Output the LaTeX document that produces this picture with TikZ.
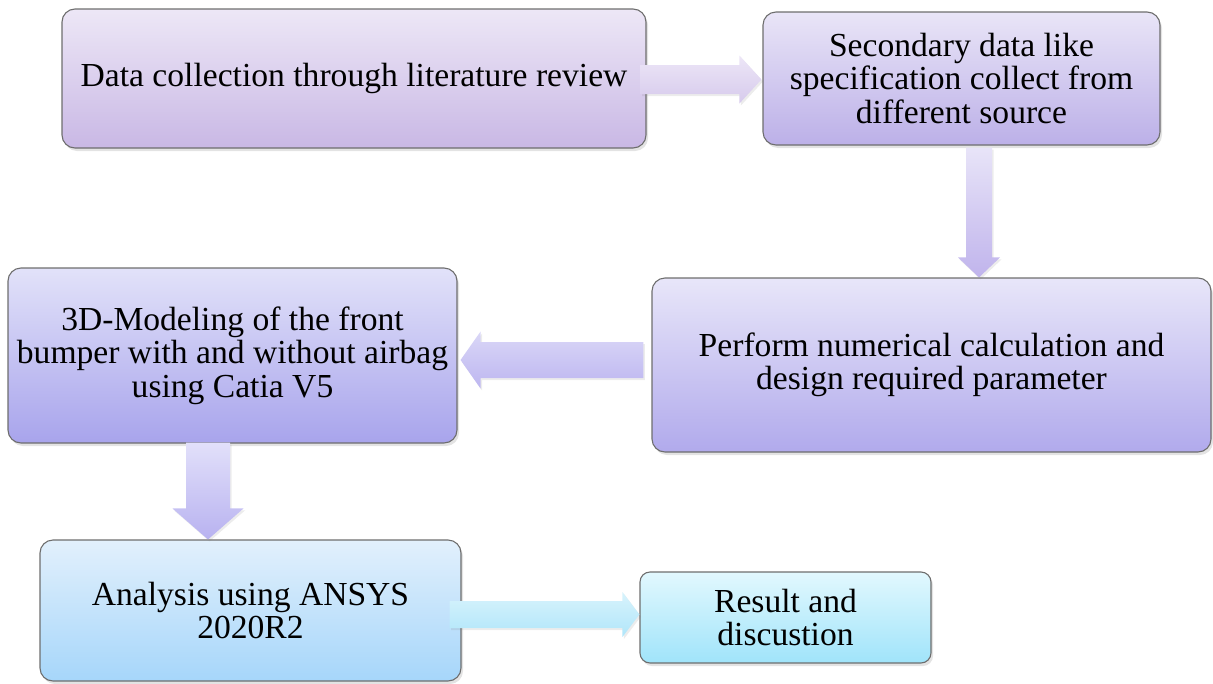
\documentclass[tikz,border=0pt]{standalone}
\usepackage{fontspec}
\setmainfont{Liberation Serif}
\usetikzlibrary{calc,shadows}

\definecolor{edgegray}{HTML}{6E6E6E}

\tikzset{
  stepbox/.style={draw=edgegray, line width=1.1pt, rounded corners=13pt,
    align=center, inner sep=0pt, text=black,
    font=\fontsize{33.6}{33.5}\selectfont,
    drop shadow={shadow xshift=2pt, shadow yshift=-3pt, opacity=0.22}},
  flowarrow/.style={drop shadow={shadow xshift=1.5pt, shadow yshift=-2pt, opacity=0.15}},
}

\begin{document}
\begin{tikzpicture}[x=1pt,y=-1pt]
\useasboundingbox (0,0) rectangle (1213,683);

% process boxes
\node[stepbox, minimum width=584pt, minimum height=139pt,
      top color={rgb,255:red,237;green,231;blue,246}, bottom color={rgb,255:red,201;green,184;blue,229}]
  (b1) at (354,78.5) {Data collection through literature review};
\node[stepbox, minimum width=397pt, minimum height=133pt,
      top color={rgb,255:red,233;green,229;blue,247}, bottom color={rgb,255:red,188;green,176;blue,232}]
  (b2) at (961.5,78.5) {Secondary data like\\specification collect from\\different source};
\node[stepbox, minimum width=559pt, minimum height=174pt,
      top color={rgb,255:red,232;green,230;blue,249}, bottom color={rgb,255:red,177;green,170;blue,236}]
  (b3) at (931.5,365) {Perform numerical calculation and\\design required parameter};
\node[stepbox, minimum width=449pt, minimum height=175pt,
      top color={rgb,255:red,226;green,226;blue,249}, bottom color={rgb,255:red,168;green,164;blue,236}]
  (b4) at (232.5,355.5) {3D-Modeling of the front\\bumper with and without airbag\\using Catia V5};
\node[stepbox, minimum width=421pt, minimum height=141pt,
      top color={rgb,255:red,226;green,240;blue,252}, bottom color={rgb,255:red,166;green,214;blue,250}]
  (b5) at (250.5,610.5) {Analysis using ANSYS\\2020R2};
\node[stepbox, rounded corners=10pt, minimum width=291pt, minimum height=91pt,
      top color={rgb,255:red,226;green,248;blue,254}, bottom color={rgb,255:red,160;green,228;blue,250}]
  (b6) at (785.5,617.5) {Result and\\discustion};

% block arrows between the boxes
\coordinate (a1s) at ($(b1.east)+(-6,1)$);
\coordinate (a1e) at ($(a1s -| b2.west)+(-1,0)$);
\shade[flowarrow, top color={rgb,255:red,237;green,230;blue,247}, bottom color={rgb,255:red,214;green,202;blue,236}]
  ($(a1s)+(0,-14.5)$) -- ($(a1e)+(-22,-14.5)$) -- ($(a1e)+(-22,-24)$) -- (a1e)
  -- ($(a1e)+(-22,24)$) -- ($(a1e)+(-22,14.5)$) -- ($(a1s)+(0,14.5)$) -- cycle;

\coordinate (a2s) at ($(b2.south)+(17.5,2)$);
\coordinate (a2e) at (a2s |- b3.north);
\shade[flowarrow, top color={rgb,255:red,232;green,228;blue,248}, bottom color={rgb,255:red,192;green,180;blue,236}]
  ($(a2s)+(-13,0)$) -- ($(a2e)+(-13,-20)$) -- ($(a2e)+(-21,-20)$) -- (a2e)
  -- ($(a2e)+(21,-20)$) -- ($(a2e)+(13,-20)$) -- ($(a2s)+(13,0)$) -- cycle;

\coordinate (a3s) at ($(b3.west)+(-8,-5)$);
\coordinate (a3e) at ($(a3s -| b4.east)+(3,0)$);
\shade[flowarrow, top color={rgb,255:red,218;green,215;blue,247}, bottom color={rgb,255:red,189;green,182;blue,240}]
  ($(a3s)+(0,-18)$) -- ($(a3e)+(20,-18)$) -- ($(a3e)+(20,-28.5)$) -- (a3e)
  -- ($(a3e)+(20,28.5)$) -- ($(a3e)+(20,18)$) -- ($(a3s)+(0,18)$) -- cycle;

\coordinate (a4s) at ($(b4.south)+(-24.5,-1)$);
\coordinate (a4e) at (a4s |- b5.north);
\shade[flowarrow, top color={rgb,255:red,226;green,224;blue,250}, bottom color={rgb,255:red,184;green,178;blue,240}]
  ($(a4s)+(-22,0)$) -- ($(a4e)+(-22,-31)$) -- ($(a4e)+(-35.5,-31)$) -- (a4e)
  -- ($(a4e)+(35.5,-31)$) -- ($(a4e)+(22,-31)$) -- ($(a4s)+(22,0)$) -- cycle;

\coordinate (a5s) at ($(b5.east)+(-12,4)$);
\coordinate (a5e) at (a5s -| b6.west);
\shade[flowarrow, top color={rgb,255:red,216;green,243;blue,252}, bottom color={rgb,255:red,176;green,230;blue,250}]
  ($(a5s)+(0,-13.5)$) -- ($(a5e)+(-17,-13.5)$) -- ($(a5e)+(-17,-22.5)$) -- (a5e)
  -- ($(a5e)+(-17,22.5)$) -- ($(a5e)+(-17,13.5)$) -- ($(a5s)+(0,13.5)$) -- cycle;
\end{tikzpicture}
\end{document}
